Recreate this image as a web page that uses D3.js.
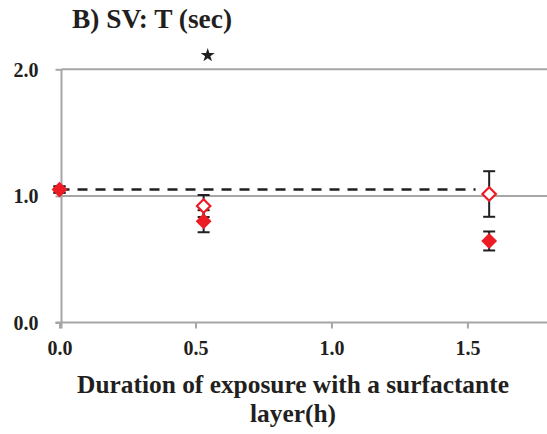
<!DOCTYPE html>
<html><head><meta charset="utf-8">
<script src="https://cdn.jsdelivr.net/npm/d3@7"></script>
<style>body{margin:0;background:#fff}svg{display:block}text{font-family:"Liberation Serif","Times New Roman",serif !important;font-weight:bold;fill:#231f20}</style>
</head><body><svg id="c" width="547" height="434"></svg>
<script>
const durations = [0, 0.53, 1.58];
const filledValues = [1.05, 0.80, 0.644];
const filledErrors = [0.025, 0.087, 0.075];
const openValues = [1.05, 0.92, 1.015];
const openErrors = [0.025, 0.087, 0.18];
const referenceLevel = 1.05;
const referenceSpan = [0, 1.53];
const starMark = [0.545, 2.11];
const yTicks = [0, 1, 2];
const xTicks = [0, 0.5, 1, 1.5];
const titleText = "B) SV: T (sec)";
const xTitleLines = ["Duration of exposure with a surfactante", "layer(h)"];

const svg = d3.select("#c");
const x = d3.scaleLinear().domain([0, 1.789]).range([59.5, 546]);
const y = d3.scaleLinear().domain([0, 2]).range([322.5, 69.3]);
const ax = x(0) + 2;
const red = "#ed1c24", ink = "#231f20", grid = "#a6a6a6";

svg.append("g").selectAll("line").data(yTicks.filter(d => d > 0)).join("line")
  .attr("x1", ax).attr("x2", 547).attr("y1", d => y(d)).attr("y2", d => y(d))
  .attr("stroke", grid).attr("stroke-width", 2);

const yAxis = svg.append("g").attr("transform", `translate(${ax},0)`)
  .call(d3.axisLeft(y).tickValues(yTicks).tickFormat(d3.format(".1f")).tickSize(6).tickPadding(17));
yAxis.select(".domain").attr("stroke", grid).attr("stroke-width", 2).attr("d", `M0,${y(2)}V${y(0)+6}`);
yAxis.selectAll(".tick line").attr("stroke", grid).attr("stroke-width", 2);
yAxis.selectAll(".tick text").attr("font-size", 20).attr("dy", "0.35em");

const xAxis = svg.append("g").attr("transform", `translate(0,${y(0)})`)
  .call(d3.axisBottom(x).tickValues(xTicks).tickFormat(d3.format(".1f")).tickSize(6).tickPadding(12));
xAxis.select(".domain").attr("stroke", grid).attr("stroke-width", 2).attr("d", `M${ax-6},0H547`);
xAxis.selectAll(".tick line").attr("stroke", grid).attr("stroke-width", 2);
xAxis.selectAll(".tick text").attr("font-size", 20).attr("dy", "0.71em");

svg.append("line").attr("x1", x(referenceSpan[0])).attr("x2", x(referenceSpan[1]))
  .attr("y1", y(referenceLevel)).attr("y2", y(referenceLevel))
  .attr("stroke", ink).attr("stroke-width", 2.5).attr("stroke-dasharray", "10,8");

function errorBars(vals, errs) {
  const g = svg.append("g").attr("stroke", ink).attr("stroke-width", 2);
  durations.forEach((d, i) => {
    const cx = x(d), t = y(vals[i] + errs[i]), b = y(vals[i] - errs[i]);
    g.append("line").attr("x1", cx).attr("x2", cx).attr("y1", t).attr("y2", b);
    g.append("line").attr("x1", cx - 6).attr("x2", cx + 6).attr("y1", t).attr("y2", t);
    g.append("line").attr("x1", cx - 6).attr("x2", cx + 6).attr("y1", b).attr("y2", b);
  });
}
errorBars(openValues, openErrors);
errorBars(filledValues, filledErrors);

const openSym = d3.symbol().type(d3.symbolDiamond2).size(115)();
const fillSym = d3.symbol().type(d3.symbolDiamond2).size(160)();
svg.append("g").selectAll("path").data(durations).join("path")
  .attr("d", fillSym)
  .attr("transform", (d, i) => `translate(${x(d)},${y(filledValues[i])})`)
  .attr("fill", red);
svg.append("g").selectAll("path").data(durations.slice(1)).join("path")
  .attr("d", openSym)
  .attr("transform", (d, i) => `translate(${x(d)},${y(openValues[i+1])})`)
  .attr("fill", "#fff").attr("stroke", red).attr("stroke-width", 2.2);

svg.append("path").attr("d", d3.symbol().type(d3.symbolStar).size(60)())
  .attr("transform", `translate(${x(starMark[0])},${y(starMark[1])})`).attr("fill", ink);

svg.append("text").attr("x", 72).attr("y", 28).attr("font-size", 27.4).text(titleText);
svg.append("text").attr("text-anchor", "middle").attr("font-size", 25.4)
  .selectAll("tspan").data(xTitleLines).join("tspan")
  .attr("x", 293).attr("y", (d, i) => 393 + i * 29).text(d => d);
</script></body></html>
